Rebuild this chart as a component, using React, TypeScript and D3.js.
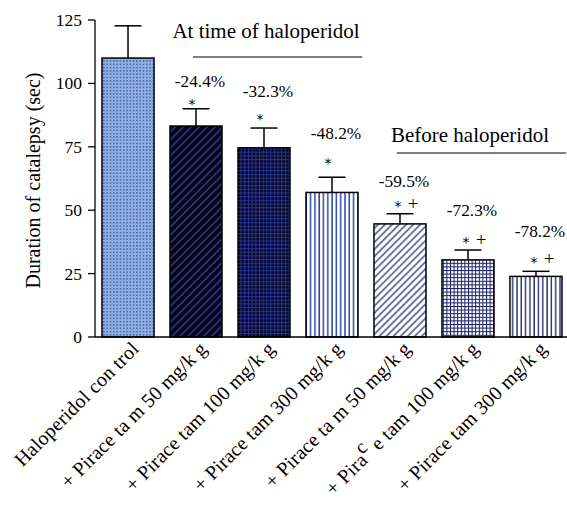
import * as d3 from 'd3';

const categories = [
  'Haloperidol con trol',
  '+ Pirace ta m 50 mg/k g',
  '+ Pirace tam 100 mg/k g',
  '+ Pirace tam 300 mg/k g',
  '+ Pirace ta m 50 mg/k g',
  '+ Pira^c^ e tam 100 mg/k g',
  '+ Pirace tam 300 mg/k g',
];
const means = [110, 83.2, 74.6, 57, 44.6, 30.4, 23.9];
const errors = [12.7, 6.8, 7.8, 6, 4, 3.9, 2];
const percentLabels = ['', '-24.4%', '-32.3%', '-48.2%', '-59.5%', '-72.3%', '-78.2%'];
const percentAt = [0, 98.6, 94.6, 78, 59, 47.7, 39.4];
const sigLabels = ['', '*', '*', '*', '* +', '* +', '* +'];
const sigAt = [0, 92.5, 86.7, 69.4, 52.4, 38.2, 30.4];
const yTicks = [0, 25, 50, 75, 100, 125];
const groups = [
  { label: 'At time of haloperidol', from: 1, to: 3, textAt: 117.9, lineAt: 110.4 },
  { label: 'Before haloperidol', from: 4, to: 6, textAt: 76.9, lineAt: 72.6 },
];

const fills = ['url(#dots)', 'url(#diagDark)', 'url(#gridDark)', 'url(#vert1)', 'url(#diagLight)', 'url(#gridLight)', 'url(#vert2)'];

const W = 567;
const H = 506;
const margin = { top: 20, right: 0, bottom: 169, left: 95 };
const font = "'Liberation Serif', Tinos, 'Noto Serif', 'DejaVu Serif', FreeSerif, 'Times New Roman', Times, serif";

function Label({ text, x, y }: { text: string; x: number; y: number }) {
  const parts = text.split('^');
  return (
    <text
      transform={`translate(${x},${y}) rotate(-45)`}
      textAnchor="end"
      fontSize={20}
      letterSpacing={0.2}
      fill="#000"
    >
      {parts.length === 1
        ? text
        : [
            <tspan key="a">{parts[0]}</tspan>,
            <tspan key="b" dy={-9}>{parts[1]}</tspan>,
            <tspan key="c" dy={9}>{parts[2]}</tspan>,
          ]}
    </text>
  );
}

export default function App() {
  const x = d3
    .scaleBand<number>()
    .domain(d3.range(categories.length))
    .range([margin.left, 569])
    .paddingInner(0.235)
    .paddingOuter(0.103);
  const y = d3.scaleLinear().domain([0, 125]).range([H - margin.bottom, margin.top]);
  const bw = x.bandwidth();
  const y0 = y(0);

  return (
    <svg width={W} height={H} style={{ position: 'absolute', left: 0, top: 0 }} fontFamily={font}>
      <defs>
        <pattern id="dots" width={3.3} height={3.3} patternUnits="userSpaceOnUse">
          <rect width={3.3} height={3.3} fill="#8fb0e3" />
          <rect x={1} y={1} width={1.2} height={1.2} fill="#1d2f82" />
        </pattern>
        <pattern id="diagDark" width={5.6} height={5.6} patternUnits="userSpaceOnUse" patternTransform="rotate(45)">
          <rect width={5.6} height={5.6} fill="#05050f" />
          <line x1={1} y1={0} x2={1} y2={5.6} stroke="#3a40b8" strokeWidth={1.3} />
        </pattern>
        <pattern id="gridDark" width={3.7} height={3.7} patternUnits="userSpaceOnUse">
          <rect width={3.7} height={3.7} fill="#06061a" />
          <line x1={0.6} y1={0} x2={0.6} y2={3.7} stroke="#2c36a0" strokeWidth={1} />
          <line x1={0} y1={0.6} x2={3.7} y2={0.6} stroke="#2c36a0" strokeWidth={1} />
        </pattern>
        <pattern id="vert1" width={4.3} height={4.3} patternUnits="userSpaceOnUse">
          <rect width={4.3} height={4.3} fill="#fff" />
          <line x1={1} y1={0} x2={1} y2={4.3} stroke="#2a44a8" strokeWidth={1.5} />
        </pattern>
        <pattern id="diagLight" width={5} height={5} patternUnits="userSpaceOnUse" patternTransform="rotate(45)">
          <rect width={5} height={5} fill="#fff" />
          <line x1={1} y1={0} x2={1} y2={5} stroke="#151c60" strokeWidth={1.2} />
        </pattern>
        <pattern id="gridLight" width={3.6} height={3.6} patternUnits="userSpaceOnUse">
          <rect width={3.6} height={3.6} fill="#fff" />
          <line x1={0.5} y1={0} x2={0.5} y2={3.6} stroke="#151c60" strokeWidth={1} />
          <line x1={0} y1={0.5} x2={3.6} y2={0.5} stroke="#151c60" strokeWidth={1} />
        </pattern>
        <pattern id="vert2" width={4.3} height={4.3} patternUnits="userSpaceOnUse">
          <rect width={4.3} height={4.3} fill="#fff" />
          <line x1={1} y1={0} x2={1} y2={4.3} stroke="#151c60" strokeWidth={1.3} />
        </pattern>
      </defs>

      {/* error bars */}
      {means.map((m, i) => {
        const cx = x(i)! + bw / 2;
        return (
          <g key={'e' + i} stroke="#000" strokeWidth={1.5}>
            <line x1={cx} x2={cx} y1={y(m)} y2={y(m + errors[i])} />
            <line x1={cx - 13.5} x2={cx + 13.5} y1={y(m + errors[i])} y2={y(m + errors[i])} />
          </g>
        );
      })}

      {/* bars */}
      {means.map((m, i) => (
        <rect
          key={'b' + i}
          x={x(i)}
          y={y(m)}
          width={bw}
          height={y0 - y(m)}
          fill={fills[i]}
          stroke="#000"
          strokeWidth={1.5}
        />
      ))}

      {/* axes */}
      <g stroke="#000" strokeWidth={1.3}>
        <line x1={margin.left} x2={margin.left} y1={y(0)} y2={y(125)} />
        <line x1={margin.left} x2={W} y1={y0} y2={y0} />
        {yTicks.map((t) => (
          <line key={t} x1={margin.left - 7} x2={margin.left} y1={y(t)} y2={y(t)} />
        ))}
      </g>
      {yTicks.map((t) => (
        <text key={'t' + t} x={margin.left - 13} y={y(t)} dy="0.34em" textAnchor="end" fontSize={17.5}>
          {t}
        </text>
      ))}
      <text
        transform={`translate(40,${(y(0) + y(125)) / 2 + 2}) rotate(-90)`}
        textAnchor="middle"
        fontSize={20}
      >
        Duration of catalepsy (sec)
      </text>

      {/* percent and significance labels */}
      {percentLabels.map((p, i) =>
        p ? (
          <text key={'p' + i} x={x(i)! + bw / 2 + 4} y={y(percentAt[i])} textAnchor="middle" fontSize={17.3}>
            {p}
          </text>
        ) : null
      )}
      {sigLabels.map((s, i) => {
        if (!s) return null;
        const cx = x(i)! + bw / 2;
        const sy = y(sigAt[i]);
        return (
          <g key={'s' + i} fill="#000">
            <text
              x={s.includes('+') ? cx - 2 : cx - 4}
              y={sy + 7}
              textAnchor="middle"
              fontSize={14}
              fontFamily="'DejaVu Sans'"
            >
              *
            </text>
            {s.includes('+') ? (
              <text x={cx + 13} y={sy + 5.5} textAnchor="middle" fontSize={19}>
                +
              </text>
            ) : null}
          </g>
        );
      })}

      {/* group annotations */}
      {groups.map((g) => {
        const left = x(g.from)! + bw * 0.44;
        const right = x(g.to)! + bw * 1.08;
        return (
          <g key={g.label}>
            <text x={(x(g.from)! + x(g.to)! + bw) / 2 + 2} y={y(g.textAt)} textAnchor="middle" fontSize={21}>
              {g.label}
            </text>
            <line x1={left} x2={right} y1={y(g.lineAt)} y2={y(g.lineAt)} stroke="#555" strokeWidth={1.5} />
          </g>
        );
      })}

      {/* category labels */}
      {categories.map((c, i) => (
        <Label key={'c' + i} text={c} x={x(i)! + bw / 2 + 12} y={y0 + 13} />
      ))}
    </svg>
  );
}
